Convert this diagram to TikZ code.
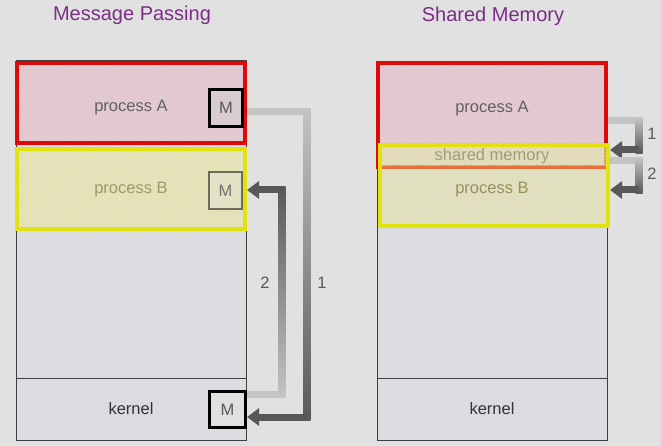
\documentclass[tikz,border=0pt]{standalone}
\usepackage{fontspec}
\setmainfont{Liberation Sans}
\usetikzlibrary{arrows.meta,patterns}
\definecolor{slidebg}{HTML}{E1E1E1}
\definecolor{memfill}{HTML}{DCDBE0}
\definecolor{pinkfill}{HTML}{E0D2D6}
\definecolor{pinkline}{HTML}{E8B8C2}
\definecolor{yelfill}{HTML}{E3E2C6}
\definecolor{yelline}{HTML}{E6E49C}
\definecolor{procred}{HTML}{DD0A0A}
\definecolor{procyellow}{HTML}{E2E20E}
\definecolor{sharedline}{HTML}{E8703A}
\definecolor{titlepurple}{HTML}{7B2D87}
\definecolor{pipelight}{HTML}{C4C4C4}
\definecolor{pipedark}{HTML}{585858}
\definecolor{msgolive}{HTML}{6E6C58}

\begin{document}
\begin{tikzpicture}[x=1pt,y=-1pt,
  memory/.style={draw=black!75,line width=0.8pt,fill=memfill,inner sep=0pt},
  procA/.style={draw=procred,line width=4pt,preaction={fill=pinkfill},pattern=north east lines,pattern color=pinkline,inner sep=0pt},
  procB/.style={draw=procyellow,line width=4pt,preaction={fill=yelfill},pattern=north east lines,pattern color=yelline,inner sep=0pt},
  txt/.style={font=\fontsize{16.5}{19}\selectfont,text=black!65},
  title/.style={font=\fontsize{20}{24}\selectfont,text=titlepurple},
  msg/.style={draw=black,line width=3pt,minimum width=33pt,minimum height=37pt,inner sep=0pt,font=\fontsize{16.5}{19}\selectfont,text=black!65},
  pipe/.style={line width=7pt},
  pipehead/.style={-{Triangle[length=12pt,width=17pt]}}]
\useasboundingbox[fill=slidebg] (0,0) rectangle (661,446);
\node[title] (tmp) at (132,15) {Message Passing};
\node[title] (tsm) at (493,16) {Shared Memory};

\node[memory,minimum width=230pt,minimum height=380pt] (lmem) at (131,250) {};
\draw[line width=0.8pt,black!75] (lmem.west |- 0,378) -- (lmem.east |- 0,378);
\node[procA,minimum width=228pt,minimum height=80pt] (lA) at (131,103) {};
\node[procB,minimum width=228pt,minimum height=80pt] (lB) at (131,189) {};
\node[txt,text=black!62] (lta) at (131,108) {process A};
\node[txt,text=black!45!olive!60] (ltb) at (131,190) {process B};
\node[txt,text=black!80] (ltk) at (131,409) {kernel};
\node[msg,fill=pinkfill!85!black!20!pinkfill] (mA) at (226,108) {M};
\node[msg,draw=msgolive,line width=2.5pt,fill=yelfill,text=black!55] (mB) at (225.5,190.5) {M};
\node[msg,fill=black!12,minimum width=36pt,minimum height=36pt] (mK) at (227.5,409.5) {M};

\coordinate (a1) at (307,112);
\coordinate (a1b) at (307,417);
\draw[pipe,draw=pipelight] (lA.east |- a1) -- (a1);
\shade[top color=pipelight,bottom color=pipedark] (303.5,108.5) rectangle (310.5,420.5);
\draw[pipe,pipehead,draw=pipedark] (a1b) -- (mK.east |- a1b);
\coordinate (a2b) at (282,394);
\coordinate (a2) at (282,190);
\draw[pipe,draw=pipelight] (mK.east |- a2b) -- (a2b);
\shade[top color=pipedark,bottom color=pipelight] (278.5,186.5) rectangle (285.5,397.5);
\draw[pipe,pipehead,draw=pipedark] (a2) -- (lB.east |- a2);
\node[txt] (l2) at (265,283) {2};
\node[txt] (l1) at (322,283) {1};

\node[memory,minimum width=230pt,minimum height=378pt] (rmem) at (492,251) {};
\draw[line width=0.8pt,black!75] (rmem.west |- 0,378) -- (rmem.east |- 0,378);
\node[procA,minimum width=228pt,minimum height=104pt] (rA) at (492,115.5) {};
\node[draw=procyellow,line width=4pt,preaction={fill=yelfill,fill opacity=0.55},pattern=north east lines,pattern color=yelline,inner sep=0pt,minimum width=228pt,minimum height=81pt] (rB) at (494,185.5) {};
\draw[line width=3.5pt,sharedline] ([xshift=6pt,yshift=2pt]rA.south west) -- ([xshift=-2pt,yshift=2pt]rA.south east);
\node[txt,text=black!62] (rta) at (492,109) {process A};
\node[txt,text=black!55!olive!55] (rts) at (492,156) {shared memory};
\node[txt,text=black!45!olive!65] (rtb) at (492,190) {process B};
\node[txt,text=black!80] (rtk) at (492,409) {kernel};

\coordinate (r1a) at (639,121);
\coordinate (r1b) at (639,150);
\draw[pipe,draw=pipelight] (rA.east |- r1a) -- (r1a);
\shade[top color=pipelight,bottom color=pipedark] (635.5,117.5) rectangle (642.5,153.5);
\draw[pipe,pipehead,draw=pipedark] (r1b) -- (rB.east |- r1b);
\coordinate (r2a) at (639,161);
\coordinate (r2b) at (639,190);
\draw[pipe,draw=pipelight] (rB.east |- r2a) -- (r2a);
\shade[top color=pipelight,bottom color=pipedark] (635.5,157.5) rectangle (642.5,193.5);
\draw[pipe,pipehead,draw=pipedark] (r2b) -- (rB.east |- r2b);
\node[txt] (r1l) at (652,134) {1};
\node[txt] (r2l) at (652,174) {2};
\end{tikzpicture}
\end{document}
